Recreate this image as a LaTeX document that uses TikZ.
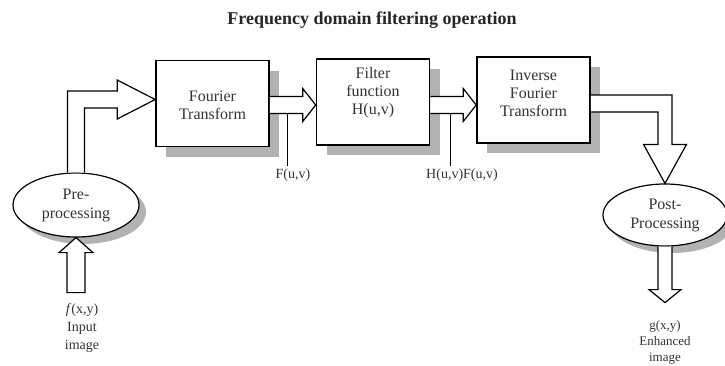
\documentclass[tikz,border=0pt]{standalone}
\usepackage{fontspec}
\setmainfont{Liberation Serif}
\usetikzlibrary{calc,shadows,shapes.geometric}

\begin{document}
\begin{tikzpicture}[x=1pt,y=-1pt,
  stage/.style={draw, line width=1.6pt, fill=white, minimum width=113pt,
    minimum height=86pt, inner sep=0pt,
    drop shadow={shadow xshift=10pt, shadow yshift=-10pt, fill=black!30, opacity=1}},
  oval/.style={draw, ellipse, line width=1.2pt, fill=white, minimum width=126pt,
    minimum height=64pt, inner sep=0pt, align=center, text=black!80,
    font=\fontsize{16}{19}\selectfont,
    drop shadow={shadow xshift=7pt, shadow yshift=-7pt, fill=black!30, opacity=1}},
  boxtxt/.style={align=center, text=black!80, font=\fontsize{16}{18}\selectfont},
  lbl/.style={align=center, text=black!80, font=\fontsize{14}{18}\selectfont, inner sep=2pt},
  blk/.style={draw, line width=1.2pt, fill=white, line join=miter},
  tick/.style={draw, line width=1.2pt}]

\useasboundingbox (0,0) rectangle (725,365);

% title
\node[font=\bfseries\fontsize{18}{20}\selectfont, text=black!85] (title) at (372,20)
  {Frequency domain filtering operation};

% processing stages
\node[stage] (ft) at (212.5,103.5) {};
\node[stage] (filter) at (373,102) {};
\node[stage] (inv) at (533.5,100) {};
\node[boxtxt] (ft-t) at ($(ft.center)+(0,2)$) {Fourier\\Transform};
\node[boxtxt] (filter-t) at ($(filter.center)+(0,-9)$) {Filter\\function\\H(u,v)};
\node[boxtxt] (inv-t) at ($(inv.center)+(0,-7)$) {Inverse\\Fourier\\Transform};

\node[oval] (pre) at (76,205) {Pre-\\processing};
\node[oval, minimum width=124pt, minimum height=62pt] (post) at (665,215) {Post-\\Processing};

% entry points of the block arrows
\coordinate (ft-in) at ($(ft.west)+(0,-4)$);
\coordinate (filter-in) at ($(filter.west)+(0,3)$);
\coordinate (inv-in) at ($(inv.west)+(0,5)$);
\coordinate (ft-out) at (ft.east |- filter-in);
\coordinate (filter-out) at (filter.east |- inv-in);

% pre-processing -> Fourier transform
\draw[blk] ($(pre.north)+(-8.5,0)$) |- ($(ft-in)+(-38,-8.5)$)
  -- ($(ft-in)+(-38,-19.5)$) -- (ft-in) -- ($(ft-in)+(-38,19.5)$)
  -- ($(ft-in)+(-38,8.5)$) -| ($(pre.north)+(8.5,0)$);

% Fourier transform -> filter
\draw[blk] ($(ft-out)+(0,-8.5)$) -- ($(filter-in)+(-13,-8.5)$)
  -- ($(filter-in)+(-13,-16.5)$) -- (filter-in) -- ($(filter-in)+(-13,16.5)$)
  -- ($(filter-in)+(-13,8.5)$) -- ($(ft-out)+(0,8.5)$);

% filter -> inverse transform
\draw[blk] ($(filter-out)+(0,-8.5)$) -- ($(inv-in)+(-13,-8.5)$)
  -- ($(inv-in)+(-13,-16.5)$) -- (inv-in) -- ($(inv-in)+(-13,16.5)$)
  -- ($(inv-in)+(-13,8.5)$) -- ($(filter-out)+(0,8.5)$);

% inverse transform -> post-processing
\draw[blk] ($(inv.east)+(0,-5)$) -| ($(post.north)+(7,-39)$) -- ++(14.5,0)
  -- (post.north) -- ($(post.north)+(-21.5,-39)$) -- ++(14.5,0)
  |- ($(inv.east)+(0,12)$);

% input image -> pre-processing
\draw[blk] (pre.south) -- ++(17,15) -- ++(-8,0) -- ++(0,40) -- ++(-18,0)
  -- ++(0,-40) -- ++(-8,0) -- cycle;

% post-processing -> enhanced image
\draw[blk] ($(post.south)+(-7,0)$) -- ++(0,43) -- ++(-9,0)
  -- ($(post.south)+(0,56)$) coordinate (out-tip) -- ($(post.south)+(16,43)$)
  -- ++(-9,0) -- ($(post.south)+(7,0)$);

% signal labels
\node[lbl] (fuv) at (293,175) {F(u,v)};
\node[lbl] (hfuv) at (462,175) {H(u,v)F(u,v)};
\coordinate (fuv-top) at ($(filter-in)+(-28,8.5)$);
\coordinate (hfuv-top) at ($(inv-in)+(-26,8.5)$);
\draw[tick] (fuv-top) -- (fuv-top |- fuv.north);
\draw[tick] (hfuv-top) -- (hfuv-top |- hfuv.north);

\node[lbl] (input) at (82,328) {\textit{f}(x,y)\\Input\\image};
\node[lbl, font=\fontsize{13}{16}\selectfont] (output) at (665,342) {g(x,y)\\Enhanced\\image};

\end{tikzpicture}
\end{document}
